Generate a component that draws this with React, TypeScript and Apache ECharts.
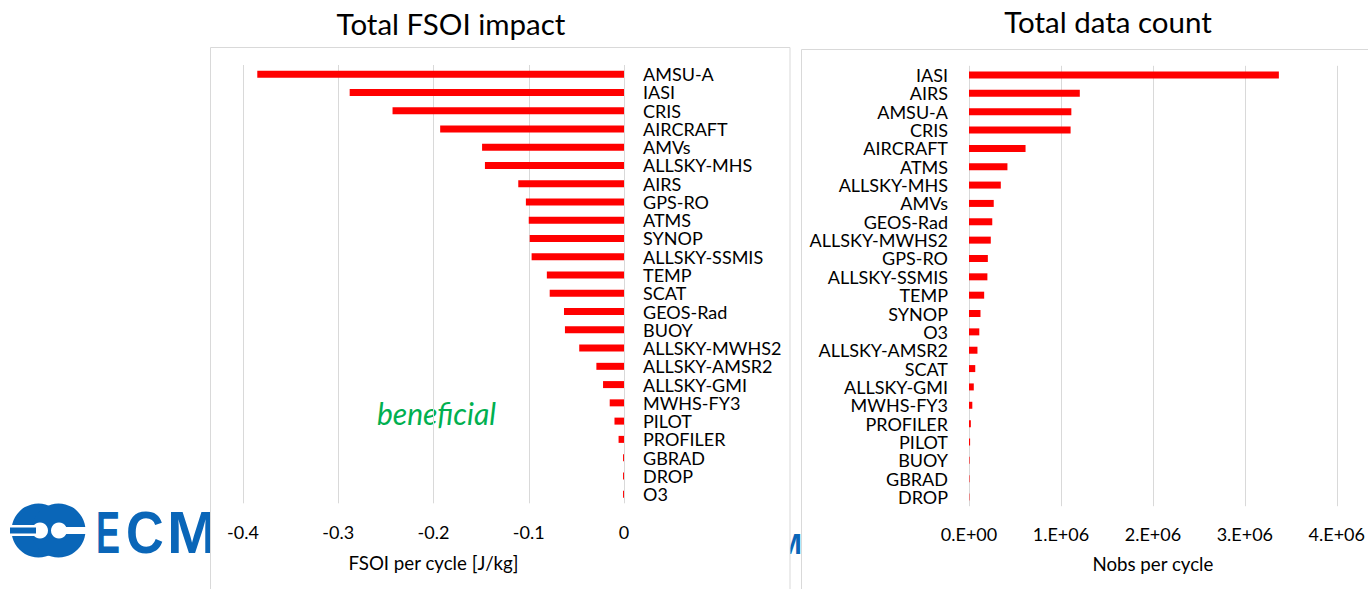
import React, { useEffect, useRef } from "react";
import * as echarts from "echarts";

const fsoiCategories = [
  "AMSU-A", "IASI", "CRIS", "AIRCRAFT", "AMVs", "ALLSKY-MHS", "AIRS", "GPS-RO",
  "ATMS", "SYNOP", "ALLSKY-SSMIS", "TEMP", "SCAT", "GEOS-Rad", "BUOY",
  "ALLSKY-MWHS2", "ALLSKY-AMSR2", "ALLSKY-GMI", "MWHS-FY3", "PILOT", "PROFILER",
  "GBRAD", "DROP", "O3",
];
const fsoiValues = [
  -0.385, -0.288, -0.243, -0.193, -0.149, -0.146, -0.111, -0.103,
  -0.1, -0.099, -0.097, -0.081, -0.078, -0.063, -0.062,
  -0.047, -0.029, -0.022, -0.015, -0.01, -0.0057,
  -0.001, -0.001, -0.001,
];
const fsoiTickLabels = ["-0.4", "-0.3", "-0.2", "-0.1", "0"];

const nobsCategories = [
  "IASI", "AIRS", "AMSU-A", "CRIS", "AIRCRAFT", "ATMS", "ALLSKY-MHS", "AMVs",
  "GEOS-Rad", "ALLSKY-MWHS2", "GPS-RO", "ALLSKY-SSMIS", "TEMP", "SYNOP", "O3",
  "ALLSKY-AMSR2", "SCAT", "ALLSKY-GMI", "MWHS-FY3", "PROFILER", "PILOT", "BUOY",
  "GBRAD", "DROP",
];
const nobsValues = [
  3370000, 1205000, 1113000, 1105000, 615000, 418000, 346000, 269000,
  253000, 237000, 205000, 200000, 165000, 125000, 112000,
  92000, 68000, 52000, 36000, 20000, 12000, 6000,
  5000, 4000,
];
const nobsTickLabels = ["0.E+00", "1.E+06", "2.E+06", "3.E+06", "4.E+06"];

const FONT = "Lato, 'Open Sans', sans-serif";
const LOGO_FONT = "'Liberation Sans', Arial, sans-serif";
const BLUE = "#0a66b8";

export default function App() {
  const ref = useRef<HTMLDivElement>(null);

  useEffect(() => {
    if (!ref.current) return;
    const chart = echarts.init(ref.current, null, { renderer: "svg" });

    const logoLetter = (ch: string, x: number, sx: number) => ({
      type: "text", z: -30, x, y: 532, scaleX: sx,
      style: {
        text: ch, fill: BLUE, fontSize: 60, fontWeight: "bold", fontFamily: LOGO_FONT,
        verticalAlign: "middle", align: "left",
      },
    });

    const option: any = {
      animation: false,
      backgroundColor: "#ffffff",
      textStyle: { fontFamily: FONT },
      graphic: [
        // background logo pieces (drawn behind panels)
        { type: "circle", z: -30, shape: { cx: 38.5, cy: 530.5, r: 27 }, style: { fill: BLUE } },
        { type: "circle", z: -30, shape: { cx: 58.5, cy: 530.5, r: 27 }, style: { fill: BLUE } },
        { type: "rect", z: -29, shape: { x: 10, y: 525, width: 32, height: 11 }, style: { fill: "#fff" } },
        { type: "rect", z: -28, shape: { x: 10, y: 527.5, width: 26, height: 6 }, style: { fill: BLUE } },
        { type: "circle", z: -29, shape: { cx: 40, cy: 530.5, r: 8 }, style: { fill: "#fff" } },
        { type: "circle", z: -29, shape: { cx: 59, cy: 530.5, r: 8 }, style: { fill: "#fff" } },
        { type: "rect", z: -29, shape: { x: 59, y: 527, width: 30, height: 7 }, style: { fill: "#fff" } },
        logoLetter("E", 96, 0.6),
        logoLetter("C", 126, 0.87),
        logoLetter("M", 167, 1.0),
        {
          type: "text", z: -30, x: 802, y: 543,
          style: {
            text: "M", fill: BLUE, fontSize: 30, fontWeight: "bold", fontFamily: LOGO_FONT,
            verticalAlign: "middle", align: "right",
          },
        },
        // panels
        {
          type: "rect", z: -20,
          shape: { x: 210.5, y: 47.5, width: 579.5, height: 600 },
          style: { fill: "#ffffff", stroke: "#d9d9d9", lineWidth: 1 },
        },
        {
          type: "rect", z: -20,
          shape: { x: 801.5, y: 49.5, width: 700, height: 600 },
          style: { fill: "#ffffff", stroke: "#d9d9d9", lineWidth: 1 },
        },
        // titles
        {
          type: "text", x: 451, y: 23,
          style: {
            text: "Total FSOI impact", fontSize: 29.5, fontFamily: FONT, fill: "#000",
            align: "center", verticalAlign: "middle",
          },
        },
        {
          type: "text", x: 1108, y: 21,
          style: {
            text: "Total data count", fontSize: 29.5, fontFamily: FONT, fill: "#000",
            align: "center", verticalAlign: "middle",
          },
        },
        {
          type: "text", x: 377, y: 413,
          style: {
            text: "beneficial", fontSize: 30, fontStyle: "italic", fontFamily: FONT,
            fill: "#00b050", align: "left", verticalAlign: "middle",
          },
        },
      ],
      grid: [
        { left: 243, right: 1368 - 624, top: 65, bottom: 589 - 503.3, containLabel: false },
        { left: 969, right: 1368 - 1338, top: 65.8, bottom: 589 - 506.2, containLabel: false },
      ],
      xAxis: [
        {
          gridIndex: 0, type: "value", min: -0.4, max: 0, interval: 0.1,
          axisLine: { show: false }, axisTick: { show: false },
          splitLine: { show: true, lineStyle: { color: "#d9d9d9", width: 1 } },
          axisLabel: {
            margin: 20, fontSize: 18, color: "#000", fontFamily: FONT,
            formatter: (v: number) => fsoiTickLabels[Math.round((v + 0.4) * 10)],
          },
          name: "FSOI per cycle [J/kg]", nameLocation: "middle", nameGap: 50,
          nameTextStyle: { fontSize: 18.7, color: "#000", fontFamily: FONT },
        },
        {
          gridIndex: 1, type: "value", min: 0, max: 4000000, interval: 1000000,
          axisLine: { show: false }, axisTick: { show: false },
          splitLine: { show: true, lineStyle: { color: "#d9d9d9", width: 1 } },
          axisLabel: {
            margin: 19, fontSize: 18, color: "#000", fontFamily: FONT,
            formatter: (v: number) => nobsTickLabels[Math.round(v / 1000000)],
          },
          name: "Nobs per cycle", nameLocation: "middle", nameGap: 48,
          nameTextStyle: { fontSize: 18.7, color: "#000", fontFamily: FONT },
        },
      ],
      yAxis: [
        {
          gridIndex: 0, type: "category", data: fsoiCategories, inverse: true,
          position: "right",
          axisLine: { show: false }, axisTick: { show: false }, splitLine: { show: false },
          axisLabel: {
            margin: 19, fontSize: 18, lineHeight: 16, color: "#000", align: "left",
            fontFamily: FONT, interval: 0,
          },
        },
        {
          gridIndex: 1, type: "category", data: nobsCategories, inverse: true,
          position: "left",
          axisLine: { show: false }, axisTick: { show: false }, splitLine: { show: false },
          axisLabel: {
            margin: 21, fontSize: 18, lineHeight: 16, color: "#000", align: "right",
            fontFamily: FONT, interval: 0,
          },
        },
      ],
      series: [
        {
          type: "bar", xAxisIndex: 0, yAxisIndex: 0, data: fsoiValues,
          barWidth: 7, itemStyle: { color: "#ff0000" },
        },
        {
          type: "bar", xAxisIndex: 1, yAxisIndex: 1, data: nobsValues,
          barWidth: 7, itemStyle: { color: "#ff0000" },
        },
      ],
    };

    chart.setOption(option);
    return () => chart.dispose();
  }, []);

  return (
    <div
      ref={ref}
      style={{ position: "fixed", left: 0, top: 0, width: 1368, height: 589 }}
    />
  );
}
